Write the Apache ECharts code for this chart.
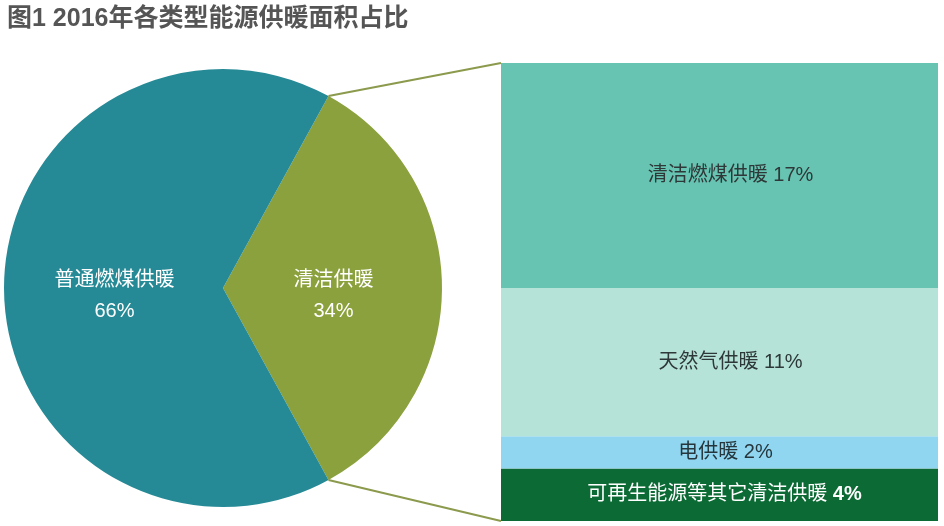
<!DOCTYPE html>
<html><head><meta charset="utf-8">
<script src="https://cdn.jsdelivr.net/npm/echarts@6/dist/echarts.min.js"></script>
<style>html,body{margin:0;padding:0;background:#fff}#c{width:944px;height:526px}</style>
</head><body><div id="c"></div>
<script>
// ---- data ----
var titleText = '图1 2016年各类型能源供暖面积占比';
var pieNames = ['清洁供暖', '普通燃煤供暖'];
var pieValues = [34, 66];
// breakdown of 清洁供暖 (bottom to top in the stack)
var barNames = ['可再生能源等其它清洁供暖', '电供暖', '天然气供暖', '清洁燃煤供暖'];
var barValues = [3.9, 2.4, 11.0, 16.7];
var barLabels = [4, 2, 11, 17];

var FONT = "'Liberation Sans','Noto Sans CJK SC',sans-serif";
var pieColors = ['#8ba13d', '#268a96'];
var barColors = ['#0c6a35', '#90d6f1', '#b6e3d8', '#67c4b2'];
var barTextColors = ['#ffffff', '#26363c', '#2e3838', '#2e3838'];
var barLabelShift = [5, 6, 11, 11];

var pieCenter = [223, 288], pieR = 219;
var cleanTotal = pieValues[0], total = pieValues[0] + pieValues[1];
var halfAngle = cleanTotal / total * 180;

var chart = echarts.init(document.getElementById('c'), null, {renderer: 'canvas'});

var barSeries = barNames.map(function (n, i) {
  var last = i === 0;
  return {
    type: 'bar', name: n, stack: 'clean', barWidth: '100%',
    data: [barValues[i]],
    itemStyle: {color: barColors[i]},
    label: {
      show: true, position: 'inside', offset: [barLabelShift[i], 0],
      formatter: '{n|' + n + ' }{v|' + barLabels[i] + '%}',
      rich: {
        n: {fontFamily: FONT, fontSize: 20, color: barTextColors[i]},
        v: {fontFamily: FONT, fontSize: 20, color: barTextColors[i], fontWeight: last ? 'bold' : 'normal'}
      }
    },
    emphasis: {disabled: true}
  };
});

chart.setOption({
  animation: false,
  title: {text: titleText, left: 2, top: 2,
    textStyle: {fontFamily: FONT, fontSize: 25, fontWeight: 'bold', color: '#555555'}},
  grid: {left: 501, right: 6, top: 63, bottom: 5},
  xAxis: {type: 'category', data: ['清洁供暖'], show: false},
  yAxis: {type: 'value', min: 0, max: cleanTotal, show: false},
  series: [{
    type: 'pie', center: pieCenter, radius: pieR,
    startAngle: halfAngle, clockwise: true,
    data: pieNames.map(function (n, i) {
      return {name: n, value: pieValues[i], itemStyle: {color: pieColors[i]}};
    }),
    label: {show: true, position: 'inner', formatter: '{b}\n{c}%',
      fontFamily: FONT, fontSize: 20, lineHeight: 31, color: '#ffffff'},
    labelLayout: function (p) {
      return {dx: p.dataIndex === 1 ? 2 : -1, dy: 4};
    },
    labelLine: {show: false},
    emphasis: {disabled: true}
  }].concat(barSeries)
});

// connector lines from pie slice edges to bar corners
var pTop = chart.convertToPixel({gridIndex: 0}, [0, cleanTotal]);
var pBot = chart.convertToPixel({gridIndex: 0}, [0, 0]);
var barLeft = 501;
var a = halfAngle * Math.PI / 180;
var p1 = [pieCenter[0] + pieR * Math.cos(a), pieCenter[1] - pieR * Math.sin(a)];
var p2 = [pieCenter[0] + pieR * Math.cos(a), pieCenter[1] + pieR * Math.sin(a)];
chart.setOption({
  graphic: [
    {type: 'line', shape: {x1: p1[0], y1: p1[1], x2: barLeft, y2: pTop[1]},
      style: {stroke: '#8b9a4c', lineWidth: 2}, z: 10},
    {type: 'line', shape: {x1: p2[0], y1: p2[1], x2: barLeft, y2: pBot[1]},
      style: {stroke: '#8b9a4c', lineWidth: 2}, z: 10}
  ]
});
</script></body></html>
